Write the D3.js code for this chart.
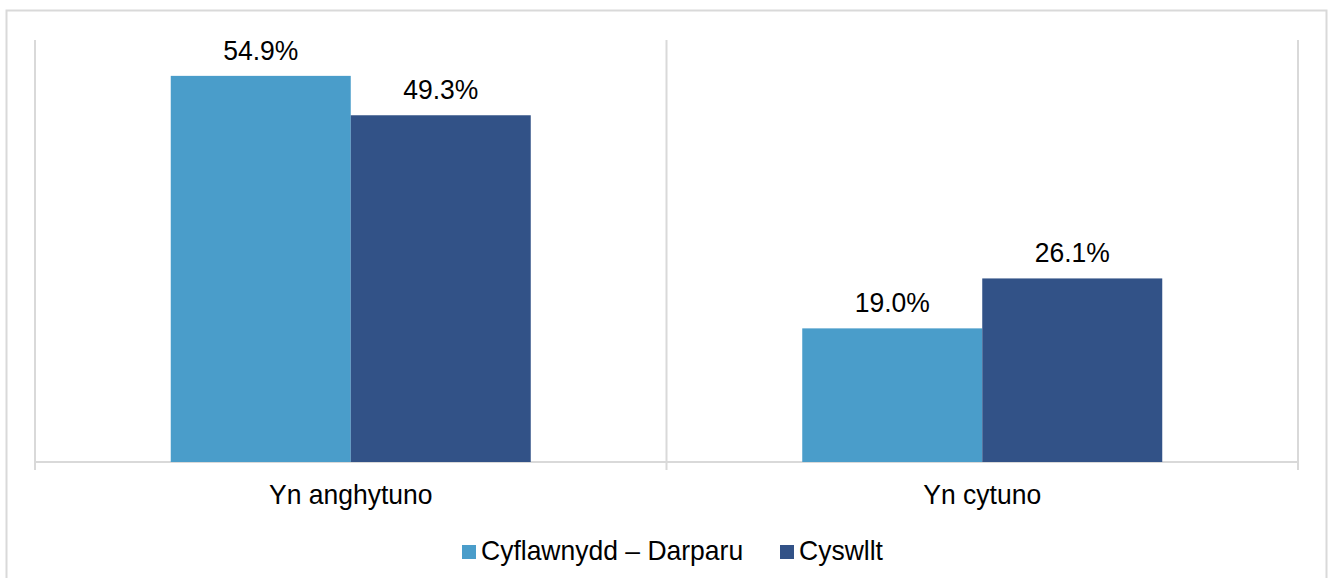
<!DOCTYPE html>
<html><head><meta charset="utf-8">
<script src="https://cdn.jsdelivr.net/npm/d3@7"></script>
<style>body{margin:0;background:#fff;} svg{display:block;font-family:"Liberation Sans",Arial,sans-serif;}</style>
</head><body>
<script>
const categories = ["Yn anghytuno", "Yn cytuno"];
const seriesNames = ["Cyflawnydd – Darparu", "Cyswllt"];
const seriesA = [54.9, 19.0];
const seriesB = [49.3, 26.1];
const colors = ["#4A9DCA", "#325287"];

const W = 1328, H = 578;
const FS = 26.5;
const SY = 1.07; // slight vertical stretch of glyphs as in the reference
const svg = d3.select("body").append("svg").attr("width", W).attr("height", H);

svg.append("rect").attr("x", 6.5).attr("y", 10.5).attr("width", 1320).attr("height", 580)
  .attr("fill", "#fff").attr("stroke", "#d9d9d9").attr("stroke-width", 2);

const x0 = d3.scaleBand().domain(categories).range([35, 1298]).paddingInner(0).paddingOuter(0);
const x1 = d3.scaleBand().domain([0, 1]).range([0, 360]);
const y = d3.scaleLinear().domain([0, 60]).range([462, 40]);

function stretchedText(sel, x, yy) {
  return sel.attr("transform", (d, i) => `translate(${x(d, i)},${yy(d, i)}) scale(1,${SY})`)
    .attr("x", 0).attr("y", 0);
}

// separators
const seps = [35, ...categories.map(c => x0(c) + x0.bandwidth())];
svg.selectAll("line.sep").data(seps).join("line")
  .attr("x1", d => d).attr("x2", d => d).attr("y1", y(60)).attr("y2", 470)
  .attr("stroke", "#d9d9d9").attr("stroke-width", 2);
svg.append("line").attr("x1", 35).attr("x2", 1298).attr("y1", y(0)).attr("y2", y(0))
  .attr("stroke", "#d9d9d9").attr("stroke-width", 2);

const data = categories.map((c, i) => ({c, vals: [seriesA[i], seriesB[i]]}));
const g = svg.selectAll("g.cat").data(data).join("g")
  .attr("transform", d => `translate(${x0(d.c) + (x0.bandwidth() - 360) / 2},0)`);
g.selectAll("rect").data(d => d.vals.map((v, j) => ({v, j}))).join("rect")
  .attr("x", d => x1(d.j)).attr("width", x1.bandwidth())
  .attr("y", d => y(d.v)).attr("height", d => y(0) - y(d.v))
  .attr("fill", d => colors[d.j]);
stretchedText(g.selectAll("text").data(d => d.vals.map((v, j) => ({v, j}))).join("text"),
    d => x1(d.j) + x1.bandwidth() / 2, d => y(d.v) - 16)
  .attr("text-anchor", "middle").attr("font-size", FS).attr("fill", "#000")
  .text(d => d.v.toFixed(1) + "%");

stretchedText(svg.selectAll("text.cat").data(categories).join("text").attr("class", "cat"),
    d => x0(d) + x0.bandwidth() / 2, () => 504)
  .attr("text-anchor", "middle").attr("font-size", FS).attr("fill", "#000").text(d => d);

// legend
const leg = [{x: 462, name: seriesNames[0], col: colors[0]}, {x: 780, name: seriesNames[1], col: colors[1]}];
const lg = svg.selectAll("g.leg").data(leg).join("g").attr("transform", d => `translate(${d.x},0)`);
lg.append("rect").attr("x", 0).attr("y", 545).attr("width", 14).attr("height", 14).attr("fill", d => d.col);
stretchedText(lg.append("text"), () => 19, () => 560)
  .attr("font-size", FS).attr("fill", "#000").text(d => d.name);
</script>
</body></html>
